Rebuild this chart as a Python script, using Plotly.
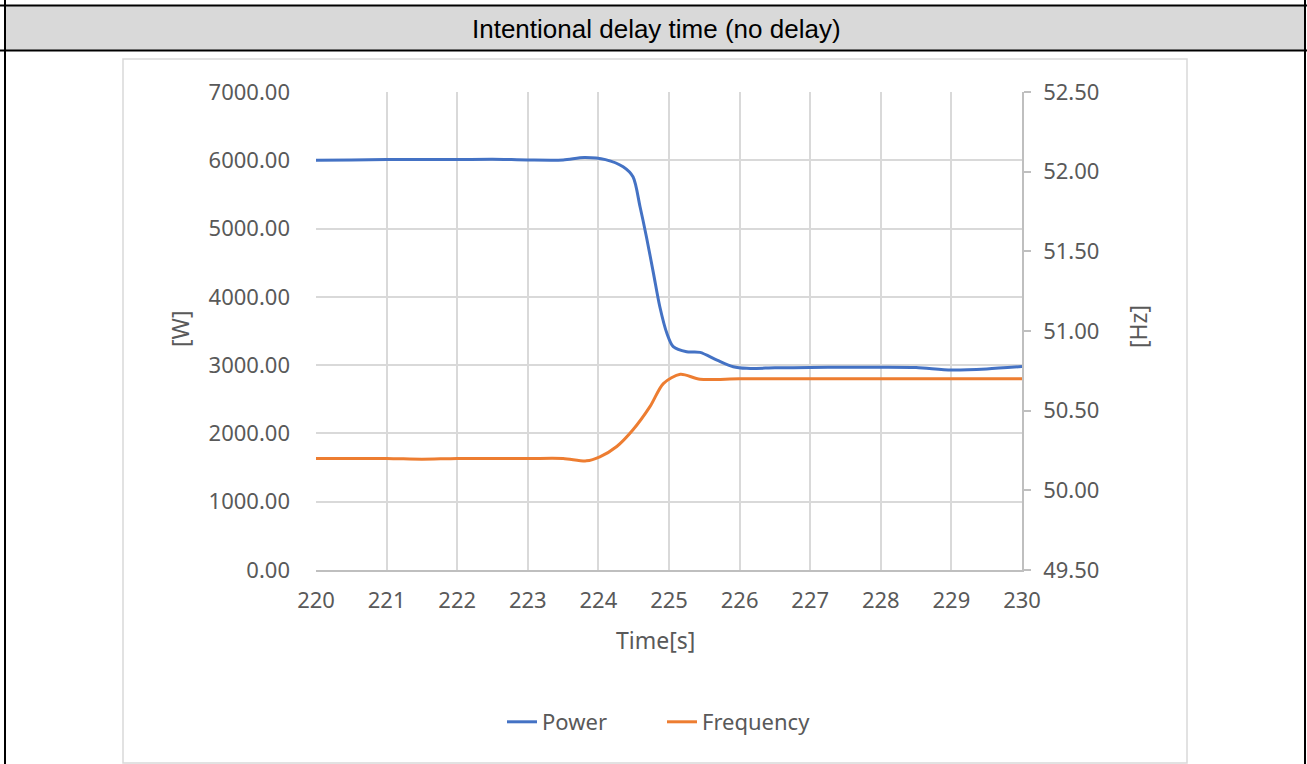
import plotly.graph_objects as go

# ---- data ----
power_time = [220, 220.5, 221, 221.5, 222, 222.5, 223, 223.5, 223.8, 224.1, 224.35, 224.49,
              224.59, 224.68, 224.78, 224.87, 224.97, 225.06, 225.25, 225.44, 225.68, 225.91,
              226.1, 226.5, 227, 227.5, 228, 228.5, 229, 229.5, 230]
power_w = [6000, 6005, 6010, 6010, 6010, 6015, 6005, 6005, 6040, 6010, 5905, 5758,
           5319, 4880, 4344, 3855, 3466, 3270, 3196, 3187, 3074, 2977,
           2953, 2960, 2965, 2970, 2970, 2965, 2930, 2945, 2980]

freq_time = [220, 221, 221.5, 222, 223, 223.5, 223.83, 224.02, 224.26, 224.49, 224.73,
             224.92, 225.16, 225.44, 226, 227, 228, 229, 230]
freq_hz = [50.20, 50.20, 50.195, 50.20, 50.20, 50.20, 50.185, 50.21, 50.275, 50.38, 50.525,
           50.67, 50.728, 50.697, 50.70, 50.70, 50.70, 50.70, 50.70]

series_names = ["Power", "Frequency"]
header_text = "Intentional delay time (no delay)"
x_title = "Time[s]"
y_title_left = "[W]"
y_title_right = "[Hz]"

W, H = 1307, 764


def px(x):
    return x / W


def py(y):
    return 1 - y / H


GRID = "#d9d9d9"
AXIS = "#bfbfbf"
TXT = "#595959"
FONT = "Noto Sans"

fig = go.Figure()
fig.add_trace(go.Scatter(x=power_time, y=power_w, name=series_names[0], mode="lines",
                         line=dict(color="#4472C4", width=3, shape="spline", smoothing=0.8)))
fig.add_trace(go.Scatter(x=freq_time, y=freq_hz, name=series_names[1], mode="lines", yaxis="y2",
                         line=dict(color="#ED7D31", width=3, shape="spline", smoothing=0.8)))

shapes = []
# header band
shapes.append(dict(type="rect", xref="paper", yref="paper", x0=px(5), x1=px(1305), y0=py(50), y1=py(6),
                   fillcolor="#d9d9d9", line=dict(width=0), layer="below"))
# table frame lines
for (x0, y0, x1, y1) in [(0, 5.5, W, 5.5), (0, 50.5, W, 50.5), (5, 0, 5, H), (1305, 0, 1305, H)]:
    shapes.append(dict(type="line", xref="paper", yref="paper", x0=px(x0), x1=px(x1), y0=py(y0), y1=py(y1),
                       line=dict(color="black", width=2)))
# chart box
shapes.append(dict(type="rect", xref="paper", yref="paper", x0=px(123), x1=px(1187), y0=py(763), y1=py(59),
                   line=dict(color=GRID, width=1.5), fillcolor="rgba(0,0,0,0)"))

annotations = [
    dict(text=header_text, xref="paper", yref="paper", x=px(656), y=py(29), showarrow=False,
         font=dict(family="Liberation Sans, Arial", size=26, color="black"), xanchor="center", yanchor="middle"),
    dict(text=x_title, xref="paper", yref="paper", x=px(655), y=py(640), showarrow=False,
         font=dict(family=FONT, size=23, color=TXT), xanchor="center", yanchor="middle"),
    dict(text=y_title_left, xref="paper", yref="paper", x=px(180), y=py(329), showarrow=False, textangle=-90,
         font=dict(family=FONT, size=23, color=TXT), xanchor="center", yanchor="middle"),
    dict(text=y_title_right, xref="paper", yref="paper", x=px(1138), y=py(327), showarrow=False, textangle=-90,
         font=dict(family=FONT, size=23, color=TXT), xanchor="center", yanchor="middle"),
]

fig.update_layout(
    width=W, height=H, autosize=False,
    margin=dict(l=0, r=0, t=0, b=0, pad=0, autoexpand=False),
    paper_bgcolor="white", plot_bgcolor="white",
    font=dict(family=FONT, size=22, color=TXT),
    xaxis=dict(domain=[px(316), px(1022)], range=[220, 230], dtick=1, tick0=220,
               showgrid=True, gridcolor=GRID, gridwidth=1.5, zeroline=False, automargin=False,
               showline=True, linecolor=AXIS, linewidth=1.5, ticks="", ticklabelstandoff=10,
               tickfont=dict(family=FONT, size=22, color=TXT)),
    yaxis=dict(domain=[py(570), py(92)], range=[0, 7000], dtick=1000, tickformat=".2f", automargin=False,
               showgrid=True, gridcolor=GRID, gridwidth=1.5, zeroline=False, showline=False,
               ticks="", ticklabelstandoff=25, tickfont=dict(family=FONT, size=22, color=TXT)),
    yaxis2=dict(overlaying="y", side="right", range=[49.5, 52.5], dtick=0.5, tickformat=".2f", automargin=False,
                showgrid=False, zeroline=False, showline=True, linecolor=AXIS, linewidth=1.5,
                ticks="outside", ticklen=7, tickcolor=AXIS, tickwidth=1.5, ticklabelstandoff=8,
                tickfont=dict(family=FONT, size=22, color=TXT)),
    showlegend=True,
    legend=dict(orientation="h", x=px(662), xanchor="center", y=py(722), yanchor="middle",
                entrywidth=115, entrywidthmode="pixels",
                font=dict(family=FONT, size=22, color=TXT), bgcolor="rgba(0,0,0,0)"),
    shapes=shapes,
    annotations=annotations,
)

fig.write_html("out.html", config={"responsive": False, "displayModeBar": False},
               post_script="document.body.style.margin='0';document.body.style.padding='0';"
                           "document.body.style.overflow='hidden';")
